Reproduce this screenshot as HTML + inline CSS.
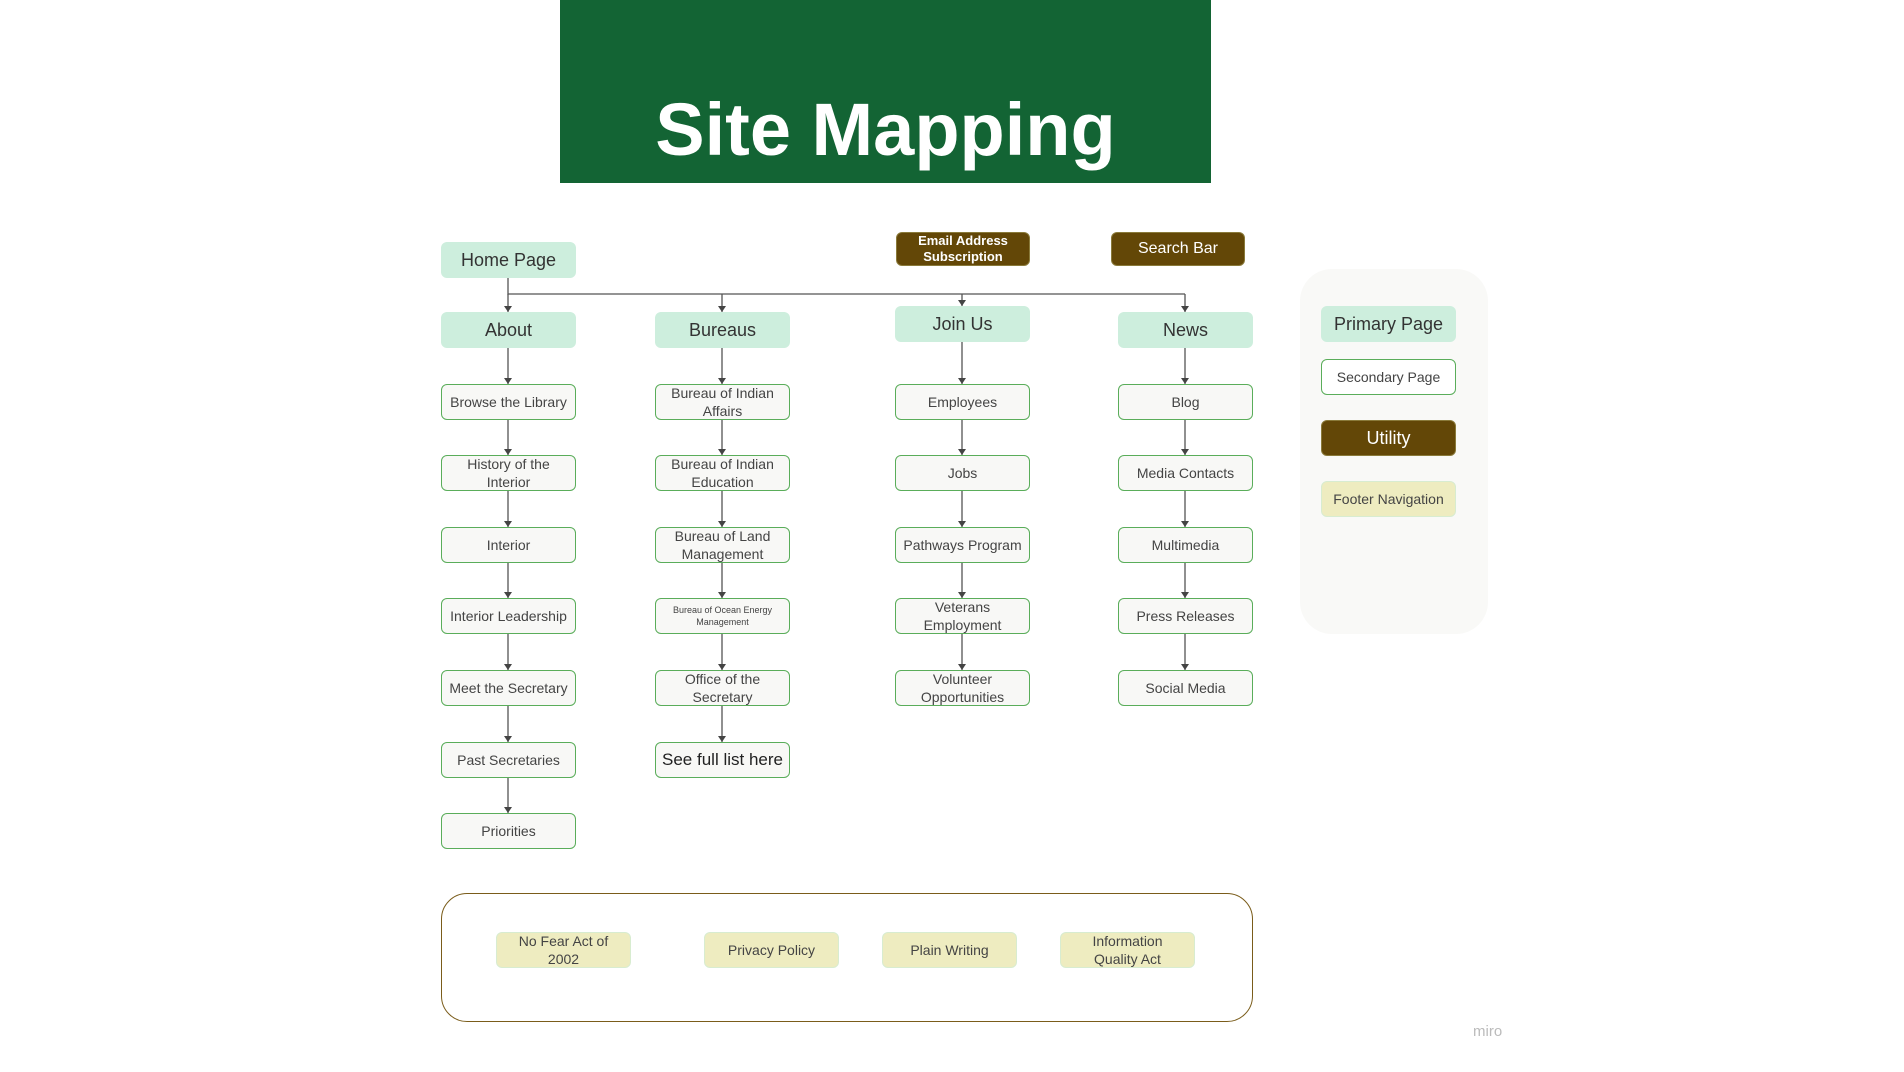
<!DOCTYPE html>
<html><head><meta charset="utf-8"><style>
body{margin:0;width:1904px;height:1072px;background:#fff;position:relative;overflow:hidden;font-family:"Liberation Sans","DejaVu Sans",sans-serif;}
.b{position:absolute;box-sizing:border-box;display:flex;align-items:center;justify-content:center;text-align:center;border-radius:6px;color:#444;width:135px;height:36px;}
.p{background:#cdeedd;font-size:18px;color:#333;}
.s{background:#f8f8f6;border:1.5px solid #5aad5a;font-size:14px;line-height:18px;}
.u{background:#634707;color:#fff;border:1px solid #8a7a3a;}
.f{background:#eeecc0;border:1px solid #d8ecd0;font-size:14px;line-height:18px;}
</style></head><body>
<div style="position:absolute;left:560px;top:0;width:651px;height:183px;background:#136434;"></div>
<div style="position:absolute;left:560px;top:84px;width:651px;text-align:center;color:#fff;font-weight:bold;font-size:74px;line-height:92px;">Site Mapping</div>

<svg style="position:absolute;left:0;top:0" width="1904" height="1072">
<g stroke="#555" stroke-width="1.3" fill="none">
<path d="M508 278V294H1185"/>
<path d="M508 294V312M722 294V312M962 294V306M1185 294V312"/>
<path d="M508 348V384M722 348V384M962 342V384M1185 348V384"/>
<path d="M508 420V455M508 491V527M508 563V598M508 634V670M508 706V742M508 778V813"/>
<path d="M722 420V455M722 491V527M722 563V598M722 634V670M722 706V742"/>
<path d="M962 420V455M962 491V527M962 563V598M962 634V670"/>
<path d="M1185 420V455M1185 491V527M1185 563V598M1185 634V670"/>
</g>
<g fill="#444">
<path d="M504 306L512 306L508 312z M718 306L726 306L722 312z M958 300L966 300L962 306z M1181 306L1189 306L1185 312z"/>
<path d="M504 378L512 378L508 384z M718 378L726 378L722 384z M958 378L966 378L962 384z M1181 378L1189 378L1185 384z"/>
<path d="M504 449L512 449L508 455z M504 521L512 521L508 527z M504 592L512 592L508 598z M504 664L512 664L508 670z M504 736L512 736L508 742z M504 807L512 807L508 813z"/>
<path d="M718 449L726 449L722 455z M718 521L726 521L722 527z M718 592L726 592L722 598z M718 664L726 664L722 670z M718 736L726 736L722 742z"/>
<path d="M958 449L966 449L962 455z M958 521L966 521L962 527z M958 592L966 592L962 598z M958 664L966 664L962 670z"/>
<path d="M1181 449L1189 449L1185 455z M1181 521L1189 521L1185 527z M1181 592L1189 592L1185 598z M1181 664L1189 664L1185 670z"/>
</g>
</svg>

<div class="b p" style="left:441px;top:242px;">Home Page</div>
<div class="b u" style="left:896px;top:232px;width:134px;height:34px;font-size:13px;line-height:16px;font-weight:bold;">Email Address<br>Subscription</div>
<div class="b u" style="left:1111px;top:232px;width:134px;height:34px;font-size:16px;">Search Bar</div>

<div class="b p" style="left:441px;top:312px;">About</div>
<div class="b p" style="left:655px;top:312px;">Bureaus</div>
<div class="b p" style="left:895px;top:306px;">Join Us</div>
<div class="b p" style="left:1118px;top:312px;">News</div>

<div class="b s" style="left:441px;top:384px;">Browse the Library</div>
<div class="b s" style="left:441px;top:455px;">History of the<br>Interior</div>
<div class="b s" style="left:441px;top:527px;">Interior</div>
<div class="b s" style="left:441px;top:598px;">Interior Leadership</div>
<div class="b s" style="left:441px;top:670px;">Meet the Secretary</div>
<div class="b s" style="left:441px;top:742px;">Past Secretaries</div>
<div class="b s" style="left:441px;top:813px;">Priorities</div>

<div class="b s" style="left:655px;top:384px;">Bureau of Indian<br>Affairs</div>
<div class="b s" style="left:655px;top:455px;">Bureau of Indian<br>Education</div>
<div class="b s" style="left:655px;top:527px;">Bureau of Land<br>Management</div>
<div class="b s" style="left:655px;top:598px;font-size:9px;line-height:12px;">Bureau of Ocean Energy<br>Management</div>
<div class="b s" style="left:655px;top:670px;">Office of the<br>Secretary</div>
<div class="b s" style="left:655px;top:742px;font-size:17px;color:#222;">See full list here</div>

<div class="b s" style="left:895px;top:384px;">Employees</div>
<div class="b s" style="left:895px;top:455px;">Jobs</div>
<div class="b s" style="left:895px;top:527px;">Pathways Program</div>
<div class="b s" style="left:895px;top:598px;">Veterans<br>Employment</div>
<div class="b s" style="left:895px;top:670px;">Volunteer<br>Opportunities</div>

<div class="b s" style="left:1118px;top:384px;">Blog</div>
<div class="b s" style="left:1118px;top:455px;">Media Contacts</div>
<div class="b s" style="left:1118px;top:527px;">Multimedia</div>
<div class="b s" style="left:1118px;top:598px;">Press Releases</div>
<div class="b s" style="left:1118px;top:670px;">Social Media</div>

<div style="position:absolute;left:1300px;top:269px;width:188px;height:365px;background:#f9f9f7;border-radius:32px;"></div>
<div class="b p" style="left:1321px;top:306px;">Primary Page</div>
<div class="b s" style="left:1321px;top:359px;background:#fff;">Secondary Page</div>
<div class="b u" style="left:1321px;top:420px;font-size:18px;">Utility</div>
<div class="b f" style="left:1321px;top:481px;">Footer Navigation</div>

<div style="position:absolute;left:441px;top:893px;width:812px;height:129px;box-sizing:border-box;border:1.5px solid #7a5c1a;border-radius:26px;"></div>
<div class="b f" style="left:496px;top:932px;">No Fear Act of<br>2002</div>
<div class="b f" style="left:704px;top:932px;">Privacy Policy</div>
<div class="b f" style="left:882px;top:932px;">Plain Writing</div>
<div class="b f" style="left:1060px;top:932px;">Information<br>Quality Act</div>

<div style="position:absolute;left:1473px;top:1023px;color:#bbb;font-size:15px;">miro</div>
</body></html>
